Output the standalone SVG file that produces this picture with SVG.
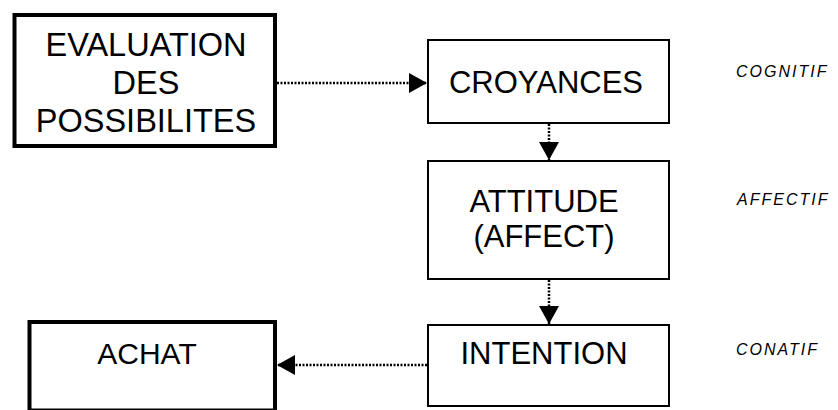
<svg xmlns="http://www.w3.org/2000/svg" width="838" height="410" viewBox="0 0 838 410">
  <style>
    .thick { fill: #fff; stroke: #000; stroke-width: 4; }
    .thin { fill: #fff; stroke: #000; stroke-width: 2; }
    .lbl { font-family: "Liberation Sans", Arial, sans-serif; font-size: 31px; fill: #000; text-anchor: middle; }
    .side { font-family: "Liberation Sans", Arial, sans-serif; font-size: 16px; font-style: italic; letter-spacing: 2px; fill: #000; }
    .conn { fill: none; stroke: #000; stroke-width: 2.5; stroke-dasharray: 2 1.5; }
  </style>
  <defs>
    <marker id="ah" viewBox="0 0 18 20" refX="18" refY="10" markerWidth="18" markerHeight="20" markerUnits="userSpaceOnUse" orient="auto">
      <path d="M0,0 L18,10 L0,20 Z" fill="#000"/>
    </marker>
  </defs>
  <rect width="838" height="410" fill="#fff"/>

  <g id="evaluation">
    <rect class="thick" x="14.5" y="15" width="260.5" height="131"/>
    <text class="lbl" x="146" y="56" style="font-size:32.5px">EVALUATION</text>
    <text class="lbl" x="146" y="94" style="font-size:32.5px">DES</text>
    <text class="lbl" x="146" y="132" style="font-size:32.5px">POSSIBILITES</text>
  </g>

  <g id="croyances">
    <rect class="thin" x="428" y="40" width="241" height="83"/>
    <text class="lbl" x="546" y="93">CROYANCES</text>
  </g>

  <g id="attitude">
    <rect class="thin" x="428" y="161" width="241" height="118"/>
    <text class="lbl" x="544" y="212">ATTITUDE</text>
    <text class="lbl" x="544" y="247">(AFFECT)</text>
  </g>

  <g id="intention">
    <rect class="thin" x="428" y="325" width="241" height="81"/>
    <text class="lbl" x="544" y="364">INTENTION</text>
  </g>

  <g id="achat">
    <rect class="thick" x="29.5" y="322" width="245.5" height="88.5"/>
    <text class="lbl" x="147" y="364" style="font-size:30px">ACHAT</text>
  </g>

  <g id="cognitif"><text class="side" x="736" y="77">COGNITIF</text></g>
  <g id="affectif"><text class="side" x="737" y="205">AFFECTIF</text></g>
  <g id="conatif"><text class="side" x="736" y="355">CONATIF</text></g>

  <g id="connectors">
    <line class="conn" x1="277" y1="83" x2="427" y2="83" marker-end="url(#ah)"/>
    <line class="conn" x1="549" y1="124" x2="549" y2="160" marker-end="url(#ah)"/>
    <line class="conn" x1="549" y1="280" x2="549" y2="324" marker-end="url(#ah)"/>
    <line class="conn" x1="427" y1="365" x2="277" y2="365" marker-end="url(#ah)"/>
  </g>
</svg>
